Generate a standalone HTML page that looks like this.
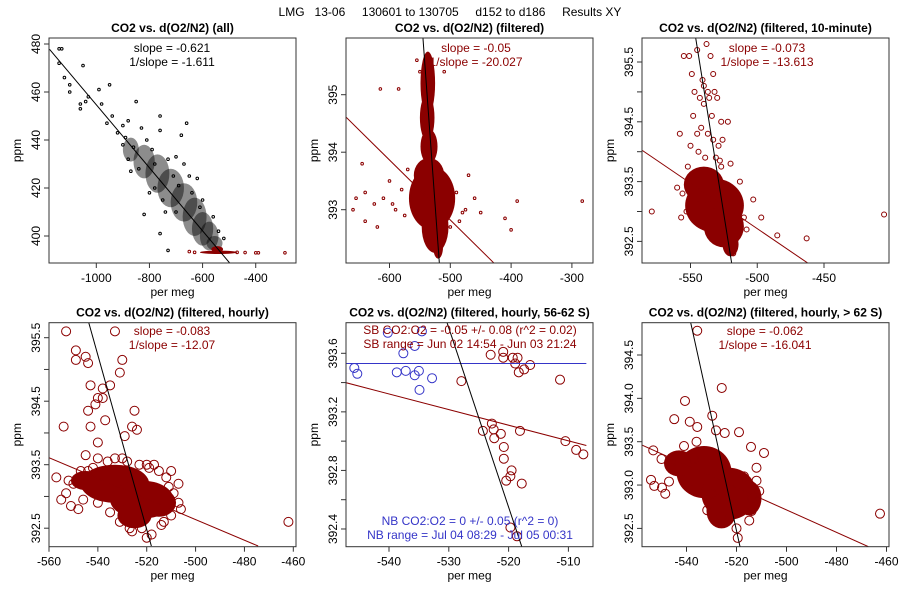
<!DOCTYPE html>
<html><head><meta charset="utf-8">
<style>
html,body{margin:0;padding:0;background:#fff;}
svg{display:block;font-family:"Liberation Sans",sans-serif;}
</style></head>
<body>
<svg id="chart" width="900" height="600" viewBox="0 0 900 600">
<text x="450" y="16" text-anchor="middle" font-size="12" fill="#000" xml:space="preserve">LMG   13-06     130601 to 130705     d152 to d186     Results XY</text>
</svg>
<script>
// ---------- Panel 1 (all) ----------
const p1BlackPts = [[-1140,478],[-1130,478],[-1140,472],[-1120,466],[-1100,460],[-1100,463],[-1060,453],[-1060,455],[-1050,471],[-1040,456],[-1030,458],[-990,461],[-980,455],[-950,463],[-940,450],[-960,447],[-900,446],[-880,448],[-850,456],[-830,445],[-810,440],[-760,450],[-760,444],[-680,442],[-660,447],[-820,409],[-760,401],[-730,394],[-700,410],[-640,418],[-620,424],[-710,425],[-780,430],[-860,437],[-900,438],[-880,432],[-920,443],[-890,441],[-870,427],[-840,428],[-800,418],[-790,436],[-750,415],[-730,432],[-700,433],[-690,421],[-670,430],[-650,425],[-610,412],[-600,415],[-560,408],[-540,402],[-520,399],[-740,410],[-780,420]];
const p1BlackClouds = [[-870,436,30,5],[-820,431,40,7],[-770,426,45,8],[-720,420,50,8],[-670,414,50,8],[-630,408,45,8],[-600,403,40,7],[-575,400,35,6],[-555,397,30,3]];
const p1RedClouds = [[-545,394.5,22,1.3],[-540,393.2,70,0.7]];
const p1RedPts = [[-400,393],[-390,393],[-290,393],[-650,393.5],[-470,393.2],[-630,393.2],[-440,393.1]];
const p1Line = [-1176,477.8,-496.8,388.6];
const p1XTicks = [-1000,-800,-600,-400];
const p1YTicks = [400,420,440,460,480];

// ---------- Panel 2 (filtered) ----------
const p2Clouds = [[-537,395.2,12,0.55],[-538,394.6,12,0.4],[-535,394.1,14,0.3],[-530,393.2,38,0.55],[-525,392.7,22,0.45],[-535,393.6,25,0.3],[-520,392.35,8,0.2]];
const p2Pts = [[-655,393.2],[-640,393.3],[-640,392.8],[-625,393.1],[-615,395.1],[-585,395.1],[-600,393.5],[-645,393.8],[-590,393.0],[-580,393.35],[-575,392.9],[-470,393.6],[-460,393.2],[-475,393.0],[-450,392.95],[-410,392.85],[-400,392.65],[-390,393.15],[-283,393.15],[-500,392.7],[-480,392.95],[-610,393.2],[-570,393.7],[-555,395.6],[-550,395.4],[-510,395.4],[-565,393.2],[-490,393.3],[-485,392.8],[-595,393.1],[-660,393.0],[-620,392.7]];
const p2Black = [-545,395.99,-518,392.07];
const p2Red = [-671.5,394.61,-428,392.07];
const p2XTicks = [-600,-500,-400,-300];
const p2YTicks = [393,394,395];

// ---------- Panel 3 (10-minute) ----------
const p3Clouds = [[-532,393.1,22,0.45],[-525,392.75,15,0.35],[-540,393.45,15,0.3],[-520,392.45,6,0.2]];
const p3Pts = [[-555,395.6],[-551,395.6],[-545,395.7],[-538,395.8],[-535,395.6],[-533,395.3],[-549,395.3],[-540,395.1],[-543,394.9],[-536,394.9],[-530,394.9],[-548,394.6],[-542,394.4],[-537,394.3],[-533,394.2],[-526,394.2],[-544,394.0],[-539,393.9],[-531,393.9],[-527,394.5],[-522,394.5],[-558,394.3],[-550,394.1],[-560,393.4],[-552,393.75],[-520,393.8],[-515,393.3],[-503,393.2],[-497,392.9],[-485,392.6],[-463,392.55],[-579,393.0],[-557,392.9],[-405,392.95],[-527,393.75],[-546,393.6],[-553,393.0],[-508,392.7],[-541,395.2],[-537,395.0],[-534,394.6],[-545,394.3],[-529,394.1],[-540,394.8],[-532,395.0],[-547,395.0],[-528,393.85],[-513,393.5],[-510,392.9],[-556,393.3],[-518,392.3]];
const p3Black = [-546.1,395.9,-519.2,392.14];
const p3Red = [-586,394.02,-462.3,392.14];
const p3XTicks = [-550,-500,-450];
const p3YTicks = [392.5,393,393.5,394,394.5,395,395.5];
const p3YLabels = [392.5,393.5,394.5,395.5];

// ---------- Panel 4 (hourly) ----------
const p4Clouds = [[-533,393.2,14,0.3],[-522,392.95,13,0.3],[-545,393.25,6,0.15],[-515,392.9,7,0.22],[-525,392.7,7,0.2]];
const p4Pts = [[-553,395.6],[-549,395.3],[-549,395.15],[-545,395.2],[-544,395.1],[-533,395.6],[-530,395.15],[-531,394.95],[-543,394.75],[-538,394.7],[-535,394.75],[-540,394.55],[-538,394.55],[-544,394.35],[-541,394.45],[-537,394.2],[-525,394.35],[-526,394.1],[-524,394.05],[-554,394.1],[-543,394.1],[-540,393.85],[-529,393.95],[-530,393.6],[-545,393.65],[-540,393.6],[-533,393.6],[-557,393.3],[-552,393.25],[-553,393.05],[-555,392.95],[-551,392.85],[-548,392.8],[-546,392.95],[-507,393.2],[-507,392.9],[-506,392.8],[-509,393.05],[-512,393.3],[-517,393.5],[-520,393.5],[-523,393.5],[-518,392.4],[-520,392.35],[-531,392.6],[-527,392.5],[-522,392.5],[-462,392.6],[-513,392.6],[-536,393.55],[-510,393.4],[-528,393.55],[-548,393.25],[-544,393.4],[-550,393.2],[-547,393.4],[-542,393.45],[-515,393.4],[-511,393.15],[-510,392.7],[-514,392.55],[-535,392.75],[-540,392.9],[-526,392.45],[-519,393.45]];
const p4Black = [-544.7,395.87,-518.1,392.22];
const p4Red = [-560,393.61,-474.4,392.22];
const p4XTicks = [-560,-540,-520,-500,-480,-460];
const p4YTicks = [392.5,393,393.5,394,394.5,395,395.5];
const p4YLabels = [392.5,393.5,394.5,395.5];

// ---------- Panel 5 (56-62 S) ----------
const p5RedPts = [[-523,393.59],[-520.9,393.61],[-520.9,393.57],[-519.3,393.57],[-518.5,393.57],[-518.9,393.53],[-518.3,393.47],[-517.4,393.49],[-516.4,393.52],[-527.9,393.41],[-511.4,393.42],[-524.3,393.07],[-522.8,393.12],[-522.5,393.08],[-522.4,393.02],[-521.3,393.05],[-518.1,393.07],[-520.8,392.96],[-520.8,392.88],[-519.5,392.8],[-519.7,392.76],[-520.4,392.73],[-517.8,392.71],[-510.5,393.0],[-508.7,392.94],[-507.5,392.91],[-519.7,392.41],[-518.6,392.35]];
const p5BluePts = [[-545.8,393.5],[-545.3,393.46],[-540.2,393.74],[-537.6,393.6],[-538.7,393.47],[-537.2,393.48],[-535.7,393.65],[-535.7,393.45],[-535.0,393.48],[-534.5,393.75],[-534.9,393.35],[-532.8,393.43]];
const p5Blue = [-548.2,393.53,-507,393.53];
const p5Red = [-548.2,393.41,-507,392.97];
const p5Black = [-530.3,393.81,-517.8,392.28];
const p5XTicks = [-540,-530,-520,-510];
const p5YTicks = [392.4,392.6,392.8,393.0,393.2,393.4,393.6];
const p5YLabels = [392.4,392.8,393.2,393.6];

// ---------- Panel 6 (> 62 S) ----------
const p6Clouds = [[-533,393.15,11,0.3],[-523,392.9,11,0.3],[-543,393.25,6,0.15],[-515,392.85,5,0.2],[-526,392.7,6,0.2]];
const p6Pts = [[-535.7,394.78],[-525.9,394.12],[-540.6,393.97],[-544.9,393.76],[-529.7,393.8],[-538.7,393.73],[-535.7,393.67],[-528.2,393.63],[-519,393.61],[-524.7,393.6],[-509,393.37],[-514.2,393.44],[-554.2,393.06],[-552.9,392.99],[-549.8,392.97],[-548.5,392.9],[-462.6,392.67],[-531.7,392.71],[-519.5,392.39],[-514.9,392.59],[-510.9,392.93],[-547,393.04],[-553.3,393.4],[-544.6,393.33],[-513.8,392.85],[-526,392.64],[-537,393.3],[-517,393.1],[-512,393.2],[-550,393.3],[-546,393.2],[-541,393.45],[-536,393.5],[-512,393.05],[-514,392.7],[-520,392.5],[-530,392.9],[-538,392.95]];
const p6Black = [-538.3,394.87,-518.6,392.29];
const p6Red = [-557.7,393.46,-467.3,392.29];
const p6XTicks = [-540,-520,-500,-480,-460];
const p6YTicks = [392.5,393.0,393.5,394.0,394.5];

const RED = '#8b0000';
const BLUE = '#3535c8';
const svg = document.getElementById('chart');
const NS = 'http://www.w3.org/2000/svg';
function mk(tag, attrs, parent) {
  const e = document.createElementNS(NS, tag);
  for (const k in attrs) e.setAttribute(k, attrs[k]);
  (parent || svg).appendChild(e);
  return e;
}
function makePanel(cfg) {
  const g = mk('g', {});
  
  
  const sx = v => cfg.xpx + (v - cfg.xv) * cfg.kx;
  const sy = v => cfg.ypx - (v - cfg.yv) * cfg.ky;
  const [L, T, R, B] = cfg.box;
  const t = mk('text', {x: (L + R) / 2, y: T - 6, 'text-anchor': 'middle', 'font-size': 12, 'font-weight': 'bold'}, g);
  t.textContent = cfg.title;
  
  
  const clipId = cfg.name + '-clip';
  const cp = mk('clipPath', {id: clipId}, g);
  mk('rect', {x: L, y: T, width: R - L, height: B - T}, cp);
  const plot = mk('g', {'clip-path': 'url(#' + clipId + ')'}, g);
  
  
  return {g, plot, sx, sy, cfg};
}
function clouds(P, arr, color, op) {
  arr.forEach(c => {
    const e = mk('ellipse', {cx: P.sx(c[0]), cy: P.sy(c[1]), rx: Math.abs(c[2] * P.cfg.kx), ry: Math.abs(c[3] * P.cfg.ky), fill: color, 'fill-opacity': op}, P.plot);
    
    
  });
}
function points(P, arr, color, r, sw) {
  arr.forEach(p => {
    const c = mk('circle', {cx: P.sx(p[0]), cy: P.sy(p[1]), r: r, fill: 'none', stroke: color, 'stroke-width': sw}, P.plot);
    
    
  });
}
function line(P, l, color, name) {
  const e = mk('line', {x1: P.sx(l[0]), y1: P.sy(l[1]), x2: P.sx(l[2]), y2: P.sy(l[3]), stroke: color, 'stroke-width': 1}, P.plot);
  
  
}
function axes(P, xt, yt, yl, fmt) {
  const [L, T, R, B] = P.cfg.box;
  const box = mk('rect', {x: L, y: T, width: R - L, height: B - T, fill: 'none', stroke: '#333', 'stroke-width': 1}, P.g);
  
  
  xt.forEach(v => {
    const x = P.sx(v);
    mk('line', {x1: x, y1: B, x2: x, y2: B + 5, stroke: '#333'}, P.g);
    const t = mk('text', {x: x, y: B + 19, 'text-anchor': 'middle', 'font-size': 12}, P.g);
    t.textContent = String(v);
    
    
  });
  yt.forEach(v => {
    const y = P.sy(v);
    mk('line', {x1: L - 5, y1: y, x2: L, y2: y, stroke: '#333'}, P.g);
  });
  yl.forEach(v => {
    const y = P.sy(v);
    const t = mk('text', {x: L - 9, y: y, 'text-anchor': 'middle', 'font-size': 12, transform: 'rotate(-90 ' + (L - 9) + ' ' + y + ')'}, P.g);
    t.textContent = fmt ? fmt(v) : String(v);
    
    
  });
  const xl = mk('text', {x: (L + R) / 2, y: B + 33, 'text-anchor': 'middle', 'font-size': 12}, P.g);
  xl.textContent = 'per meg';
  
  
  const yx = L - 28, yy = (T + B) / 2;
  const ylab = mk('text', {x: yx, y: yy, 'text-anchor': 'middle', 'font-size': 12, transform: 'rotate(-90 ' + yx + ' ' + yy + ')'}, P.g);
  ylab.textContent = 'ppm';
  
  
}
function note(P, x, y, txt, color, name) {
  const t = mk('text', {x: x, y: y, 'text-anchor': 'middle', 'font-size': 12, fill: color}, P.g);
  t.textContent = txt;
  
  
}
const f1 = v => v.toFixed(1);

// Panel 1
let P = makePanel({name: 'panel-all', title: 'CO2 vs. d(O2/N2) (all)', box: [49, 38, 296, 263], xpx: 96.3, xv: -1000, kx: 0.2657, ypx: 236, yv: 400, ky: 2.4});
clouds(P, p1BlackClouds, '#000', 0.45);
points(P, p1BlackPts, '#000', 1.3, 1);
clouds(P, p1RedClouds, RED, 1);
points(P, p1RedPts, RED, 1.3, 1);
line(P, p1Line, '#000', 'fit-line');
axes(P, p1XTicks, p1YTicks, p1YTicks);
note(P, 172, 52, 'slope = -0.621', '#000', 'slope-label');
note(P, 172, 66, '1/slope = -1.611', '#000', 'inverse-slope-label');

// Panel 2
P = makePanel({name: 'panel-filtered', title: 'CO2 vs. d(O2/N2) (filtered)', box: [346, 38, 593, 263], xpx: 389.5, xv: -600, kx: 0.608, ypx: 209.7, yv: 393, ky: 57.5});
clouds(P, p2Clouds, RED, 1);
points(P, p2Pts, RED, 1.3, 1);
line(P, p2Red, RED, 'fit-line-red');
line(P, p2Black, '#000', 'fit-line-black');
axes(P, p2XTicks, p2YTicks, p2YTicks);
note(P, 476, 52, 'slope = -0.05', RED, 'slope-label');
note(P, 476, 66, '1/slope = -20.027', RED, 'inverse-slope-label');

// Panel 3
P = makePanel({name: 'panel-10-minute', title: 'CO2 vs. d(O2/N2) (filtered, 10-minute)', box: [642, 38, 889, 263], xpx: 690.5, xv: -550, kx: 1.335, ypx: 181.6, yv: 393.5, ky: 59.8});
clouds(P, p3Clouds, RED, 1);
points(P, p3Pts, RED, 2.5, 1);
line(P, p3Red, RED, 'fit-line-red');
line(P, p3Black, '#000', 'fit-line-black');
axes(P, p3XTicks, p3YTicks, p3YLabels, f1);
note(P, 767, 52, 'slope = -0.073', RED, 'slope-label');
note(P, 767, 66, '1/slope = -13.613', RED, 'inverse-slope-label');

// Panel 4
P = makePanel({name: 'panel-hourly', title: 'CO2 vs. d(O2/N2) (filtered, hourly)', box: [49, 322.7, 296, 546.7], xpx: 49, xv: -560, kx: 2.443, ypx: 337.7, yv: 395.5, ky: 63.5});
clouds(P, p4Clouds, RED, 1);
points(P, p4Pts, RED, 4.5, 1);
line(P, p4Red, RED, 'fit-line-red');
line(P, p4Black, '#000', 'fit-line-black');
axes(P, p4XTicks, p4YTicks, p4YLabels, f1);
note(P, 172, 335, 'slope = -0.083', RED, 'slope-label');
note(P, 172, 349, '1/slope = -12.07', RED, 'inverse-slope-label');

// Panel 5
P = makePanel({name: 'panel-hourly-56-62s', title: 'CO2 vs. d(O2/N2) (filtered, hourly, 56-62 S)', box: [346, 322.7, 593, 546.7], xpx: 389, xv: -540, kx: 5.98, ypx: 353.3, yv: 393.6, ky: 146.4});
points(P, p5RedPts, RED, 4.5, 1);
points(P, p5BluePts, BLUE, 4.5, 1);
line(P, p5Blue, BLUE, 'fit-line-blue');
line(P, p5Red, RED, 'fit-line-red');
line(P, p5Black, '#000', 'fit-line-black');
axes(P, p5XTicks, p5YTicks, p5YLabels, f1);
note(P, 470, 334, 'SB CO2:O2 = -0.05 +/- 0.08 (r^2 = 0.02)', RED, 'sb-ratio-label');
note(P, 470, 348, 'SB range = Jun 02 14:54 - Jun 03 21:24', RED, 'sb-range-label');
note(P, 470, 525, 'NB CO2:O2 = 0 +/- 0.05 (r^2 = 0)', BLUE, 'nb-ratio-label');
note(P, 470, 539, 'NB range = Jul 04 08:29 - Jul 05 00:31', BLUE, 'nb-range-label');

// Panel 6
P = makePanel({name: 'panel-hourly-gt-62s', title: 'CO2 vs. d(O2/N2) (filtered, hourly, > 62 S)', box: [642, 322.7, 889, 546.7], xpx: 686.5, xv: -540, kx: 2.5, ypx: 355, yv: 394.5, ky: 86.7});
clouds(P, p6Clouds, RED, 1);
points(P, p6Pts, RED, 4.5, 1);
line(P, p6Red, RED, 'fit-line-red');
line(P, p6Black, '#000', 'fit-line-black');
axes(P, p6XTicks, p6YTicks, p6YTicks, f1);
note(P, 765, 335, 'slope = -0.062', RED, 'slope-label');
note(P, 765, 349, '1/slope = -16.041', RED, 'inverse-slope-label');
</script>
</body></html>
